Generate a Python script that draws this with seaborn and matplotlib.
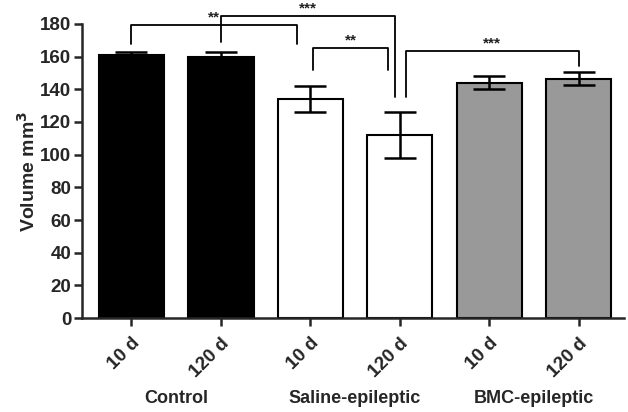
import pandas as pd
import matplotlib.pyplot as plt
import seaborn as sns

groups = ['Control', 'Control', 'Saline-epileptic', 'Saline-epileptic', 'BMC-epileptic', 'BMC-epileptic']
times = ['10 d', '120 d', '10 d', '120 d', '10 d', '120 d']
volume = [161, 160, 134, 112, 144, 146.5]
sem = [2, 3, 8, 14, 4, 4]
bar_colors = ['#000000', '#000000', '#ffffff', '#ffffff', '#999999', '#999999']

# significance brackets: (left bar, right bar, left end, right end, top, label)
brackets = [
    (0, 1.85, 168, 168, 179.5, '**'),
    (1, 2.95, 169, 135, 185, '***'),
    (2.03, 2.87, 152, 152, 165, '**'),
    (3.07, 5, 135, 154, 163.5, '***'),
]

df = pd.DataFrame({'group': groups, 'time': times, 'volume': volume})
df['bar'] = [f'{g}_{t}' for g, t in zip(groups, times)]

sns.set_theme(style="ticks")
plt.rcParams['font.family'] = ['Liberation Sans', 'DejaVu Sans']

fig = plt.figure(figsize=(6.28, 4.12), dpi=100)
ax = fig.add_axes([0.131, 0.228, 0.863, 0.714])

sns.barplot(data=df, x='bar', y='volume', hue='bar', palette=bar_colors,
            width=0.73, edgecolor='black', linewidth=1.5, errorbar=None,
            legend=False, ax=ax, zorder=2)
ax.errorbar(range(len(volume)), volume, yerr=sem, fmt='none', ecolor='black',
            elinewidth=1.8, capsize=11.5, capthick=1.8, zorder=3)

for x1, x2, y1, y2, top, lab in brackets:
    ax.plot([x1, x1, x2, x2], [y1, top, top, y2], color='black', lw=1.3,
            clip_on=False, zorder=4)
    ax.text((x1 + x2) / 2, top + 0.3, lab, ha='center', va='bottom',
            fontsize=11, fontweight='bold', color='#222222', clip_on=False)

ax.set_xlim(-0.55, 5.51)
ax.set_ylim(0, 180)
ax.set_yticks(range(0, 181, 20))
ax.set_xticks(range(len(times)))
ax.set_xticklabels(times, rotation=45, ha='right', rotation_mode='anchor',
                   fontsize=13.5, fontweight='bold')
for t in ax.get_yticklabels():
    t.set_fontweight('bold')
    t.set_fontsize(13.5)
ax.set_xlabel('')
ax.set_ylabel('Volume mm$^\\mathbf{3}$', fontsize=14, fontweight='bold', labelpad=1)
ax.tick_params(axis='both', width=1.8, length=6, pad=2)
ax.tick_params(axis='x', pad=6)
sns.despine(ax=ax)
ax.spines['left'].set_linewidth(1.8)
ax.spines['bottom'].set_linewidth(1.8)

for pos, name in [(0.5, 'Control'), (2.5, 'Saline-epileptic'), (4.5, 'BMC-epileptic')]:
    ax.text(pos, -0.272, name, transform=ax.get_xaxis_transform(),
            ha='center', va='center', fontsize=13, fontweight='bold')

fig.savefig('out.png', dpi=100)
